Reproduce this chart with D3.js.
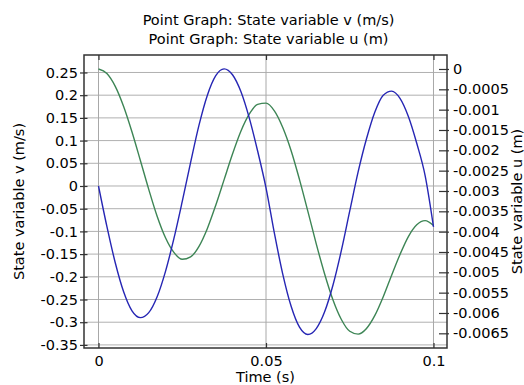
<!DOCTYPE html>
<html>
<head>
<meta charset="utf-8">
<script src="https://cdn.jsdelivr.net/npm/d3@7"></script>
<style>
  body { margin: 0; background: #fff; }
  text { font-family: "DejaVu Sans", sans-serif; fill: #000; }
</style>
</head>
<body>
<div id="chart"></div>
<script>
// time samples (s)
var time = [0, 0.0025, 0.005, 0.0075, 0.01, 0.0125, 0.015, 0.0175, 0.02, 0.0225,
  0.025, 0.0275, 0.03, 0.0325, 0.035, 0.0375, 0.04, 0.0425, 0.045, 0.0475,
  0.05, 0.0525, 0.055, 0.0575, 0.06, 0.0625, 0.065, 0.0675, 0.07, 0.0725,
  0.075, 0.0775, 0.08, 0.0825, 0.085, 0.0875, 0.09, 0.0925, 0.095, 0.0975, 0.1];

// state variable v (m/s), left axis
var velocity = [0, -0.089, -0.169, -0.233, -0.275, -0.290, -0.279, -0.244, -0.188, -0.116,
  -0.034, 0.052, 0.134, 0.200, 0.243, 0.258, 0.245, 0.208, 0.150, 0.077,
  -0.004, -0.104, -0.194, -0.265, -0.311, -0.327, -0.314, -0.277, -0.218, -0.142,
  -0.055, 0.031, 0.104, 0.163, 0.200, 0.209, 0.193, 0.153, 0.094, 0.023, -0.090];

// state variable u (m), right axis
var displacement = [0, -0.00011, -0.000426, -0.000922, -0.00155, -0.00225, -0.00296, -0.00362, -0.00415, -0.00451,
  -0.00468, -0.00462, -0.00436, -0.00392, -0.00335, -0.00272, -0.00209, -0.00153, -0.00111, -0.00087,
  -0.00084, -0.00103, -0.00144, -0.00201, -0.00272, -0.00350, -0.00430, -0.00504, -0.00568, -0.00616,
  -0.00645, -0.00652, -0.00638, -0.00606, -0.00560, -0.00507, -0.00456, -0.00412, -0.00383, -0.00373, -0.00385];

var xTicks = [0, 0.05, 0.1];
var vTicks = [0.25, 0.2, 0.15, 0.1, 0.05, 0, -0.05, -0.1, -0.15, -0.2, -0.25, -0.3, -0.35];
var uTicks = [0, -0.0005, -0.001, -0.0015, -0.002, -0.0025, -0.003, -0.0035, -0.004,
  -0.0045, -0.005, -0.0055, -0.006, -0.0065];

var titles = ["Point Graph: State variable v (m/s)", "Point Graph: State variable u (m)"];

(function(){
  var width = 524, height = 385;
  var pl = 84, pr = 447, pt = 55, pb = 348;
  var fs = 14.5;

  var svg = d3.select("#chart").append("svg")
    .attr("width", width)
    .attr("height", height);

  var x = d3.scaleLinear().domain([-0.00433, 0.10403]).range([pl, pr]);
  var yV = d3.scaleLinear().domain([-0.3568, 0.2885]).range([pb, pt]);
  var yU = d3.scaleLinear().domain([-0.006861, 0.000344]).range([pb, pt]);

  function fmt(d) { return String(+d.toFixed(5)); }

  // grid
  svg.append("g").selectAll("line")
    .data(vTicks).enter().append("line")
      .attr("x1", pl).attr("x2", pr)
      .attr("y1", function(d){ return yV(d); })
      .attr("y2", function(d){ return yV(d); })
      .attr("stroke", "#b0b0b0").attr("stroke-width", 1);

  svg.append("g").selectAll("line")
    .data(xTicks).enter().append("line")
      .attr("x1", function(d){ return x(d); })
      .attr("x2", function(d){ return x(d); })
      .attr("y1", pt).attr("y2", pb)
      .attr("stroke", "#a8a8a8").attr("stroke-width", 1);

  // curves
  var lineV = d3.line()
    .x(function(d, i){ return x(time[i]); })
    .y(function(d){ return yV(d); })
    .curve(d3.curveMonotoneX);

  var lineU = d3.line()
    .x(function(d, i){ return x(time[i]); })
    .y(function(d){ return yU(d); })
    .curve(d3.curveMonotoneX);

  svg.append("path")
    .datum(displacement)
    .attr("d", lineU)
    .attr("fill", "none")
    .attr("stroke", "#3d8555")
    .attr("stroke-width", 1.4);

  svg.append("path")
    .datum(velocity)
    .attr("d", lineV)
    .attr("fill", "none")
    .attr("stroke", "#2626b4")
    .attr("stroke-width", 1.4);

  // frame
  svg.append("rect")
    .attr("x", pl).attr("y", pt)
    .attr("width", pr - pl).attr("height", pb - pt)
    .attr("fill", "none").attr("stroke", "#333").attr("stroke-width", 1.5);

  // axes
  var axisStyle = function(g){
    g.select(".domain").remove();
    g.selectAll("line").attr("stroke", "#333").attr("stroke-width", 1.2);
    g.selectAll("text").attr("font-size", fs).attr("fill", "#000")
      .attr("font-family", "DejaVu Sans, sans-serif");
  };

  svg.append("g")
    .attr("transform", "translate(" + pl + ",0)")
    .call(d3.axisLeft(yV).tickValues(vTicks).tickFormat(fmt).tickSizeInner(4).tickPadding(2))
    .call(axisStyle)
    .call(function(g){ g.selectAll(".tick line").attr("x2", 3.5).attr("x1", -4); });

  svg.append("g")
    .attr("transform", "translate(" + pr + ",0)")
    .call(d3.axisRight(yU).tickValues(uTicks).tickFormat(fmt).tickSizeInner(3).tickPadding(3))
    .call(axisStyle)
    .call(function(g){ g.selectAll(".tick line").attr("x1", -8).attr("x2", 2); });

  svg.append("g")
    .attr("transform", "translate(0," + pb + ")")
    .call(d3.axisBottom(x).tickValues(xTicks).tickFormat(fmt).tickSizeInner(0).tickPadding(8))
    .call(axisStyle)
    .call(function(g){ g.selectAll(".tick line").attr("y1", 0).attr("y2", -5); });

  svg.append("g")
    .attr("transform", "translate(0," + pt + ")")
    .call(d3.axisTop(x).tickValues(xTicks).tickFormat("").tickSizeInner(0))
    .call(axisStyle)
    .call(function(g){ g.selectAll(".tick line").attr("y1", 0).attr("y2", 5); });

  // titles and labels
  svg.selectAll(".title")
    .data(titles).enter().append("text")
      .attr("class", "title")
      .attr("x", (pl + pr) / 2 + 3)
      .attr("y", function(d, i){ return 25 + i * 18.5; })
      .attr("text-anchor", "middle")
      .attr("font-size", fs)
      .text(function(d){ return d; });

  svg.append("text")
    .attr("x", (pl + pr) / 2)
    .attr("y", 382)
    .attr("text-anchor", "middle")
    .attr("font-size", fs)
    .text("Time (s)");

  svg.append("text")
    .attr("transform", "translate(24," + ((pt + pb) / 2) + ") rotate(-90)")
    .attr("text-anchor", "middle")
    .attr("font-size", fs)
    .text("State variable v (m/s)");

  svg.append("text")
    .attr("transform", "translate(522," + ((pt + pb) / 2) + ") rotate(-90)")
    .attr("text-anchor", "middle")
    .attr("font-size", fs)
    .text("State variable u (m)");
})();
</script>
</body>
</html>
